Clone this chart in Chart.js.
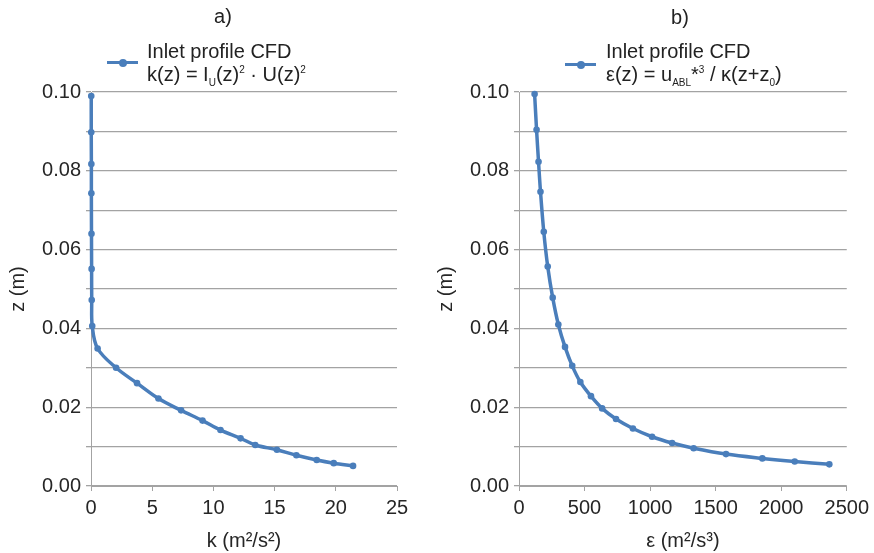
<!DOCTYPE html>
<html><head><meta charset="utf-8">
<script src="https://cdn.jsdelivr.net/npm/chart.js@4"></script>
<style>
body{margin:0;background:#fff;width:874px;height:553px;overflow:hidden;position:relative;font-family:"Liberation Sans",Arial,sans-serif;}
canvas{position:absolute;top:0;}
.t{position:absolute;font-size:20px;line-height:22px;color:#222;text-align:center;width:40px;}
.lg{position:absolute;font-size:20px;line-height:23px;color:#222;white-space:nowrap;}
.lg sub,.lg sup{font-size:10px;line-height:0;}
.sw{position:absolute;height:3px;background:#4a7ebb;}
.dot{position:absolute;width:8px;height:8px;border-radius:50%;background:#4a7ebb;}
</style></head>
<body>
<canvas id="c1" width="428" height="553" style="left:0"></canvas>
<canvas id="c2" width="446" height="553" style="left:428px"></canvas>

<div class="t" style="left:203px;top:5px;">a)</div>
<div class="t" style="left:660px;top:6px;">b)</div>

<div class="sw" style="left:107px;top:61px;width:31px;"></div>
<div class="dot" style="left:119px;top:58.5px;"></div>
<div class="lg" style="left:147px;top:40px;">Inlet profile CFD<br>k(z) = I<sub>U</sub>(z)<sup>2</sup> · U(z)<sup>2</sup></div>

<div class="sw" style="left:565px;top:63px;width:31px;"></div>
<div class="dot" style="left:577px;top:60.5px;"></div>
<div class="lg" style="left:606px;top:40px;">Inlet profile CFD<br>ε(z) = u<sub>ABL</sub>*<sup>3</sup> / κ(z+z<sub>0</sub>)</div>

<script>
// Data
const zK = [0.0990, 0.0898, 0.0817, 0.0743, 0.0640, 0.0551, 0.0472, 0.0406, 0.0349, 0.0300, 0.0261, 0.0222, 0.0192, 0.0166, 0.0142, 0.0121, 0.0104, 0.0092, 0.0078, 0.0066, 0.0058, 0.0051];
const kVals = [0.02, 0.02, 0.03, 0.03, 0.04, 0.05, 0.06, 0.10, 0.54, 2.05, 3.76, 5.51, 7.36, 9.11, 10.58, 12.22, 13.42, 15.19, 16.78, 18.44, 19.83, 21.41];
const zEps = [0.0995, 0.0904, 0.0823, 0.0747, 0.0645, 0.0557, 0.0478, 0.0410, 0.0353, 0.0305, 0.0264, 0.0228, 0.0197, 0.0170, 0.0146, 0.0125, 0.0109, 0.0096, 0.0081, 0.0070, 0.0062, 0.0055];
const epsVals = [119, 134, 149, 164, 189, 219, 257, 300, 351, 406, 468, 549, 634, 740, 869, 1015, 1168, 1332, 1579, 1856, 2103, 2367];
const kTicks = {min: 0, max: 25, step: 5};
const epsTicks = {min: 0, max: 2500, step: 500};
const zTicks = {min: 0, max: 0.1, step: 0.01};
const kTitle = 'k (m²/s²)';
const epsTitle = 'ε (m²/s³)';
const zTitle = 'z (m)';

const BLUE = '#4a7ebb';
const GRID = '#a3a3a3';
const TXT = '#262626';
const FONT = {family: '"Liberation Sans", Arial, sans-serif', size: 20};

function makeChart(id, xs, zs, xt, xTitle, padRight) {
  const pts = xs.map((v, i) => ({x: v, y: zs[i]}));
  return new Chart(document.getElementById(id), {
    type: 'scatter',
    data: {datasets: [{data: pts, showLine: true, borderColor: BLUE, backgroundColor: BLUE,
      borderWidth: 3.5, pointRadius: 3.3, pointHoverRadius: 3.3, pointBorderWidth: 0,
      tension: 0.35, clip: false}]},
    options: {
      responsive: false, animation: false, devicePixelRatio: 1,
      layout: {padding: {top: 92, right: padRight, bottom: 0, left: 0}},
      plugins: {legend: {display: false}, tooltip: {enabled: false}},
      scales: {
        x: {
          type: 'linear', min: xt.min, max: xt.max,
          ticks: {stepSize: xt.step, color: TXT, font: FONT, padding: 5, maxRotation: 0,
            callback: v => String(v)},
          grid: {display: true, drawOnChartArea: false, drawTicks: true, tickLength: 5, color: GRID},
          border: {display: true, color: GRID, width: 1},
          title: {display: true, text: xTitle, color: TXT, font: FONT, padding: {top: 2, bottom: 0}},
          afterFit: s => { s.height = 67; }
        },
        y: {
          type: 'linear', min: zTicks.min, max: zTicks.max,
          ticks: {stepSize: zTicks.step, color: TXT, font: FONT, padding: 5,
            callback: v => (Math.round(v * 100) % 2 === 0) ? v.toFixed(2) : ''},
          grid: {display: true, drawOnChartArea: true, drawTicks: true, tickLength: 5, color: GRID, lineWidth: 1.3},
          border: {display: true, color: GRID, width: 1},
          title: {display: true, text: zTitle, color: TXT, font: FONT, padding: {top: 6, bottom: 0}},
          afterFit: s => { s.width = 91; }
        }
      }
    }
  });
}

makeChart('c1', kVals, zK, kTicks, kTitle, 31);
makeChart('c2', epsVals, zEps, epsTicks, epsTitle, 24);
</script>
</body></html>
